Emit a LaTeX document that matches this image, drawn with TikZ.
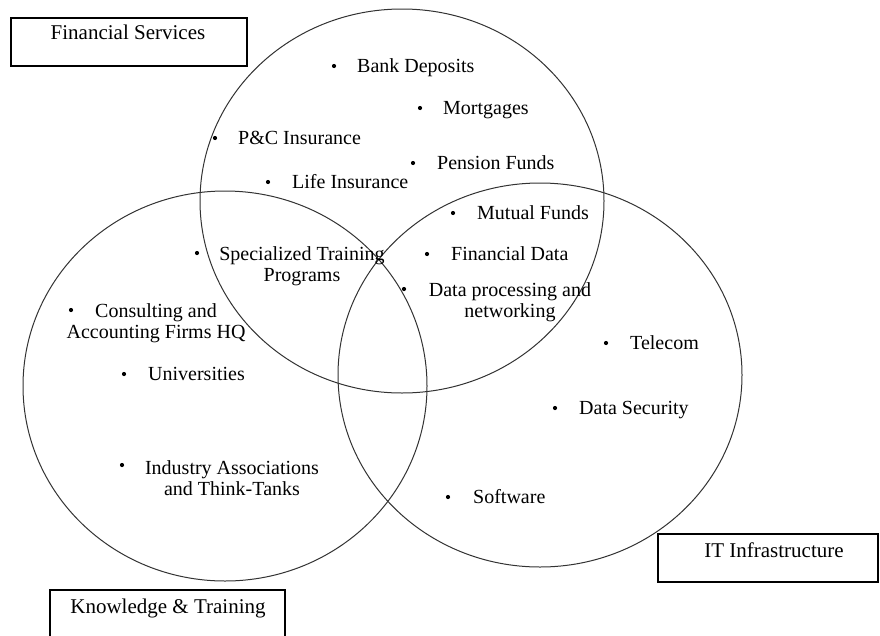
\documentclass[tikz,border=0pt]{standalone}
\usepackage{fontspec}
\setmainfont{Liberation Serif}
\begin{document}
\begin{tikzpicture}[x=1pt,y=-1pt,
  ring/.style={draw=black!80, line width=1pt},
  labelbox/.style={draw=black, line width=2pt, anchor=north west, inner sep=0pt},
  boxtext/.style={font=\fontsize{21}{22}\selectfont, inner sep=0pt, text height=13pt, text depth=4pt, yshift=-2pt},
  item/.style={font=\fontsize{20}{21}\selectfont, inner sep=0pt, text height=12.5pt, text depth=4pt, yshift=-2pt},
  multi/.style={font=\fontsize{20}{21}\selectfont, inner sep=0pt, align=center, yshift=-1.5pt},
  dot/.style={circle, fill=black, inner sep=0pt, minimum size=4.2pt}]
\useasboundingbox (0,0) rectangle (880,635);
\fill[white] (0,0) rectangle (880,635);
% three sets
\draw[ring] (402,201) ellipse [x radius=202pt, y radius=192pt];
\draw[ring] (225,386) ellipse [x radius=202pt, y radius=195pt];
\draw[ring] (540,375) ellipse [x radius=202pt, y radius=192pt];
% label boxes
\node[labelbox, minimum width=236pt, minimum height=48pt] (fsbox) at (10,17) {};
\node[boxtext] (fs) at (128,33) {Financial Services};
\node[labelbox, minimum width=220pt, minimum height=48pt] (itbox) at (657,533) {};
\node[boxtext] (it) at (774,551) {IT Infrastructure};
\node[labelbox, minimum width=235pt, minimum height=60pt] (ktbox) at (49,589) {};
\node[boxtext] (kt) at (168,607) {Knowledge \& Training};
% items
\node[dot] (d1) at (334,66) {};  \node[item, anchor=west] (t1) at (357,66) {Bank Deposits};
\node[dot] (d2) at (420,108) {}; \node[item, anchor=west] (t2) at (443,108) {Mortgages};
\node[dot] (d3) at (215,138) {}; \node[item, anchor=west] (t3) at (238,138) {P\&C Insurance};
\node[dot] (d4) at (413,163) {}; \node[item, anchor=west] (t4) at (437,163) {Pension Funds};
\node[dot] (d5) at (268,182) {}; \node[item, anchor=west] (t5) at (292,182) {Life Insurance};
\node[dot] (d6) at (453,213) {}; \node[item, anchor=west] (t6) at (477,213) {Mutual Funds};
\node[dot] (d7) at (427,254) {}; \node[item, anchor=west] (t7) at (451,254) {Financial Data};
\node[dot] (d8) at (404,289) {}; \node[multi] (t8) at (510,301) {Data processing and\\networking};
\node[dot] (d9) at (606,343) {}; \node[item, anchor=west] (t9) at (630,343) {Telecom};
\node[dot] (d10) at (555,408) {}; \node[item, anchor=west] (t10) at (579,408) {Data Security};
\node[dot] (d11) at (448,497) {}; \node[item, anchor=west] (t11) at (473,497) {Software};
\node[dot] (d12) at (197,253) {}; \node[multi] (t12) at (302,265) {Specialized Training\\Programs};
\node[dot] (d13) at (71,310) {}; \node[multi] (t13) at (156,322) {Consulting and\\Accounting Firms HQ};
\node[dot] (d14) at (124,374) {}; \node[item, anchor=west] (t14) at (148,374) {Universities};
\node[dot] (d15) at (122,465) {}; \node[multi] (t15) at (232,477) {Industry Associations\\and Think-Tanks};
\end{tikzpicture}
\end{document}
